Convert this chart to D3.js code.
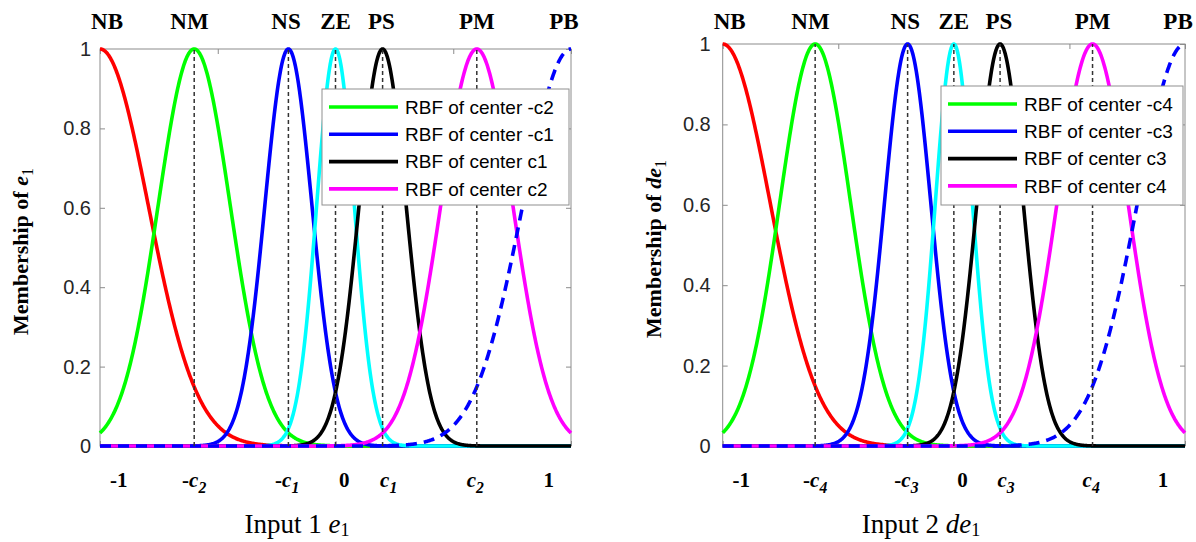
<!DOCTYPE html>
<html>
<head>
<meta charset="utf-8">
<script src="https://cdn.jsdelivr.net/npm/d3@7"></script>
<style>
  body { margin: 0; background: #fff; }
  svg { display: block; }
</style>
</head>
<body>
<div id="chart"></div>
<script>
// fuzzy sets, gaussian RBF membership (centres / widths)
const setNames = ["NB", "NM", "NS", "ZE", "PS", "PM", "PB"];
const setCenters = [-1, -0.6, -0.2, 0, 0.2, 0.6, 1];
const setSigmas = [0.205, 0.153, 0.1, 0.08, 0.1, 0.153, 0.205];
const guideCenters = [-0.6, -0.2, 0, 0.2, 0.6];

const xTicks = [-1, -0.5, 0, 0.5, 1];
const yTicks = [0, 0.2, 0.4, 0.6, 0.8, 1];

const centerLabels1 = ["-1", "-c_2", "-c_1", "0", "c_1", "c_2", "1"];
const centerLabels2 = ["-1", "-c_4", "-c_3", "0", "c_3", "c_4", "1"];
const legendLabels1 = ["RBF of center -c2", "RBF of center -c1", "RBF of center c1", "RBF of center c2"];
const legendLabels2 = ["RBF of center -c4", "RBF of center -c3", "RBF of center c3", "RBF of center c4"];
const legendSeries = [1, 2, 4, 5];

// text anchors in data units (as placed with text() in the original)
const setLabelX = [-0.97, -0.62, -0.21, 0, 0.195, 0.6, 0.97];
const centerLabelX = [-0.92, -0.6, -0.205, 0.037, 0.226, 0.594, 0.905];

const curveColors = ["#ff0000", "#00ff00", "#0000ff", "#00ffff", "#000000", "#ff00ff", "#0000ff"];
const serif = "'Liberation Serif', 'Times New Roman', serif";
const sans = "'Liberation Sans', Arial, sans-serif";

const W = 1196, H = 542;

const svg = d3.select("#chart").append("svg")
  .attr("width", W)
  .attr("height", H)
  .style("background", "#fff");

const panels = [
  {
    left: 100, right: 571, top: 49, bottom: 446, labelGap: 9,
    centerLabels: centerLabels1, legendLabels: legendLabels1,
    legend: { x: 322, y: 89, w: 247, h: 116 },
    yTitle: ["Membership of ", "e"], yTitleX: 28,
    xTitle: ["Input 1 ", "e"], xTitleX: 297
  },
  {
    left: 722.7, right: 1185, top: 44, bottom: 446, labelGap: 12,
    centerLabels: centerLabels2, legendLabels: legendLabels2,
    legend: { x: 941, y: 86, w: 242, h: 119 },
    yTitle: ["Membership of ", "de"], yTitleX: 661,
    xTitle: ["Input 2 ", "de"], xTitleX: 921
  }
];

function gauss(v, c, s) {
  return Math.exp(-((v - c) * (v - c)) / (2 * s * s));
}

// "-c_2" -> "-", italic "c", subscript "2"
function subLabel(sel, label, size) {
  const parts = label.split("_");
  const m = parts[0].match(/^(-?)(.*)$/);
  if (m[1]) sel.append("tspan").text(m[1]);
  if (parts.length === 1) {
    sel.append("tspan").text(m[2]);
    return;
  }
  sel.append("tspan").attr("font-style", "italic").text(m[2]);
  sel.append("tspan")
    .attr("font-style", "italic")
    .attr("font-size", size * 0.75)
    .attr("dy", size * 0.28)
    .text(parts[1]);
}

panels.forEach(p => {
  const g = svg.append("g");
  const x = d3.scaleLinear().domain([-1, 1]).range([p.left, p.right]);
  const y = d3.scaleLinear().domain([0, 1]).range([p.bottom, p.top]);

  // box + inward ticks
  g.append("rect")
    .attr("x", p.left).attr("y", p.top)
    .attr("width", p.right - p.left).attr("height", p.bottom - p.top)
    .attr("fill", "none").attr("stroke", "#8c8c8c").attr("stroke-width", 1);

  const tickStyle = a => {
    a.select(".domain").remove();
    a.selectAll(".tick line").attr("stroke", "#8c8c8c");
  };

  g.append("g").attr("transform", `translate(0,${p.top})`)
    .call(d3.axisTop(x).tickValues(xTicks).tickSize(-5).tickFormat(""))
    .call(tickStyle);
  g.append("g").attr("transform", `translate(0,${p.bottom})`)
    .call(d3.axisBottom(x).tickValues(xTicks).tickSize(-5).tickFormat(""))
    .call(tickStyle);
  g.append("g").attr("transform", `translate(${p.right},0)`)
    .call(d3.axisRight(y).tickValues(yTicks).tickSize(-5).tickFormat(""))
    .call(tickStyle);
  const yAxis = g.append("g").attr("transform", `translate(${p.left},0)`)
    .call(d3.axisLeft(y).tickValues(yTicks).tickSize(-5).tickPadding(p.labelGap)
      .tickFormat(d => d === 0 || d === 1 ? d3.format("d")(d) : d3.format(".1f")(d)))
    .call(tickStyle);
  yAxis.selectAll(".tick text")
    .attr("fill", "#262626")
    .style("font-family", sans)
    .style("font-size", "20px");

  // membership curves
  const xs = d3.range(0, 801).map(i => -1 + i / 400);
  const line = d3.line().x(d => x(d[0])).y(d => y(d[1]));
  setCenters.forEach((c, i) => {
    const pts = xs.map(v => [v, gauss(v, c, setSigmas[i])]);
    const path = g.append("path")
      .datum(pts)
      .attr("d", line)
      .attr("fill", "none")
      .attr("stroke", curveColors[i])
      .attr("stroke-width", 3.6)
      .attr("stroke-linejoin", "round");
    if (i === setCenters.length - 1) path.attr("stroke-dasharray", "11,7");
  });

  // dashed guides at the centres
  g.selectAll(".guide")
    .data(guideCenters)
    .join("line")
    .attr("x1", d => x(d)).attr("x2", d => x(d))
    .attr("y1", y(0)).attr("y2", y(1))
    .attr("stroke", "#333")
    .attr("stroke-width", 1.5)
    .attr("stroke-dasharray", "4,3");

  // legend
  const lg = g.append("g").attr("transform", `translate(${p.legend.x},${p.legend.y})`);
  lg.append("rect")
    .attr("width", p.legend.w).attr("height", p.legend.h)
    .attr("fill", "#fff").attr("stroke", "#8f8f8f").attr("stroke-width", 1);
  p.legendLabels.forEach((lab, k) => {
    const ry = 18 + k * 27.3;
    lg.append("line")
      .attr("x1", 7).attr("x2", 76).attr("y1", ry).attr("y2", ry)
      .attr("stroke", curveColors[legendSeries[k]])
      .attr("stroke-width", 3.6);
    lg.append("text")
      .attr("x", 83).attr("y", ry).attr("dy", "0.35em")
      .attr("fill", "#000")
      .style("font-family", sans)
      .style("font-size", "19px")
      .text(lab);
  });

  // set names above the axes
  g.selectAll(".setname")
    .data(setNames)
    .join("text")
    .attr("x", (d, i) => x(setLabelX[i]))
    .attr("y", 29)
    .attr("text-anchor", "middle")
    .style("font-family", serif)
    .style("font-weight", "bold")
    .style("font-size", "23px")
    .text(d => d);

  // centre labels under the axes
  p.centerLabels.forEach((lab, i) => {
    const t = g.append("text")
      .attr("x", x(centerLabelX[i]))
      .attr("y", 487)
      .attr("text-anchor", "middle")
      .style("font-family", serif)
      .style("font-weight", "bold")
      .style("font-size", "21px");
    subLabel(t, lab, 21);
  });

  // axis titles
  const xt = g.append("text")
    .attr("x", p.xTitleX).attr("y", 533)
    .attr("text-anchor", "middle")
    .style("font-family", serif)
    .style("font-size", "27px");
  xt.append("tspan").text(p.xTitle[0]);
  xt.append("tspan").attr("font-style", "italic").text(p.xTitle[1]);
  xt.append("tspan").attr("font-size", 18).attr("dy", 3).text("1");

  const yt = g.append("text")
    .attr("transform", `translate(${p.yTitleX},${(p.top + p.bottom) / 2 + 4}) rotate(-90)`)
    .attr("text-anchor", "middle")
    .style("font-family", serif)
    .style("font-weight", "bold")
    .style("font-size", "22px");
  yt.append("tspan").text(p.yTitle[0]);
  yt.append("tspan").attr("font-style", "italic").text(p.yTitle[1]);
  yt.append("tspan").attr("font-weight", "normal").attr("font-size", 16).attr("dy", 5).text("1");
});
</script>
</body>
</html>
